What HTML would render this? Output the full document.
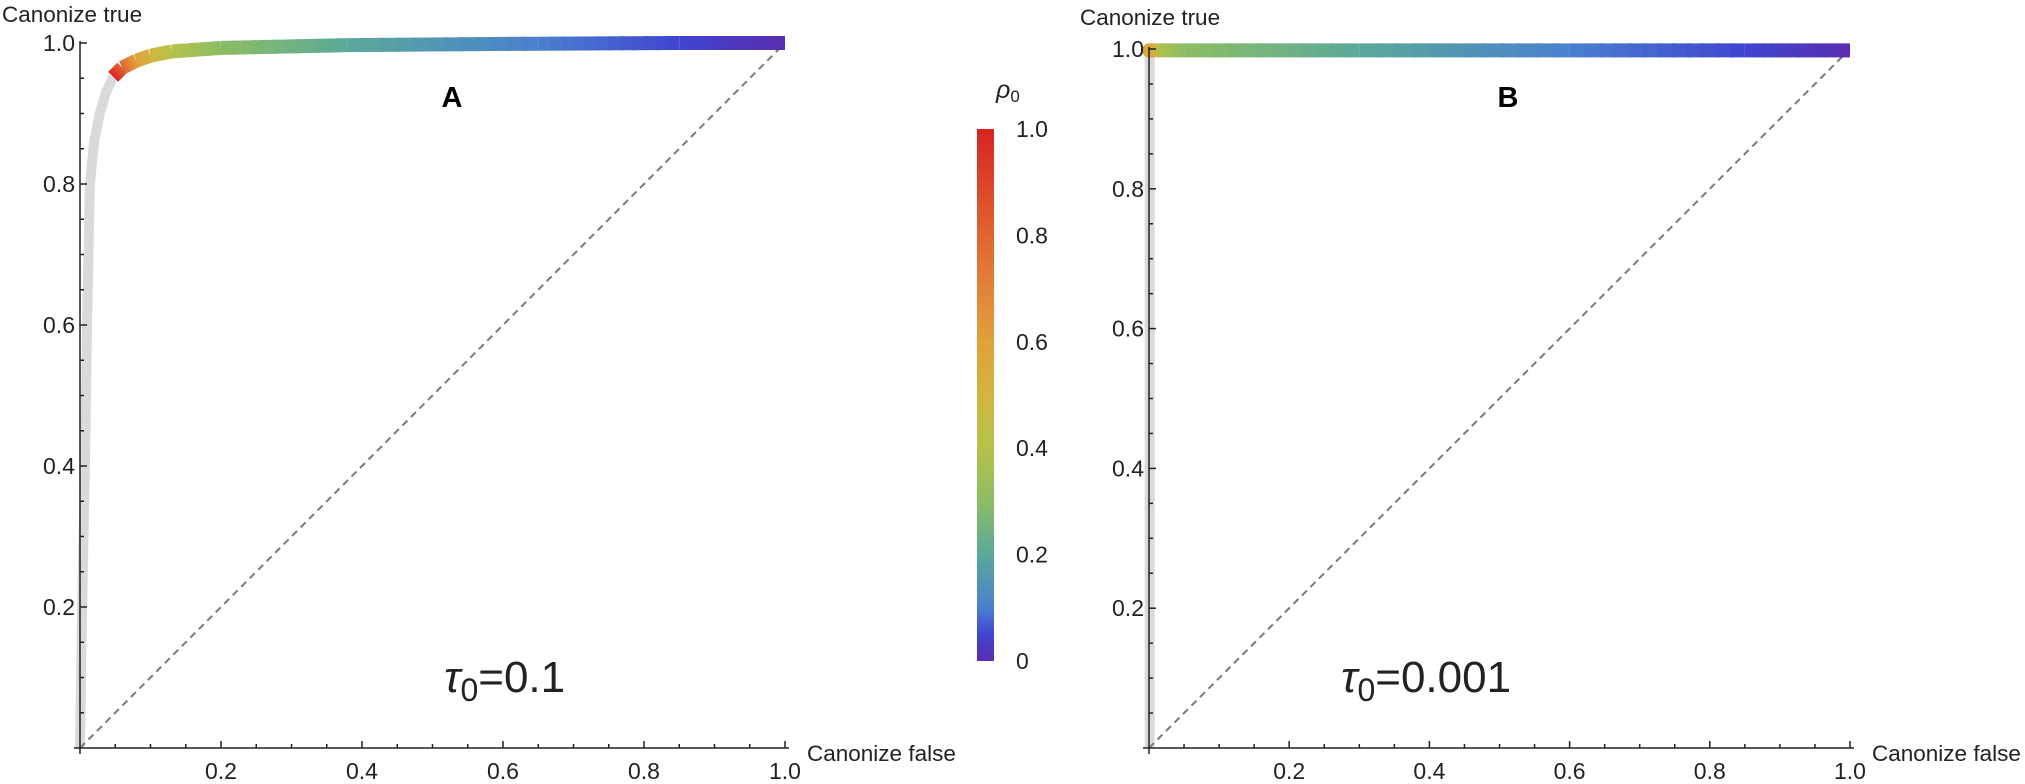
<!DOCTYPE html>
<html><head><meta charset="utf-8"><style>
html,body{margin:0;padding:0;background:#fff;}
svg{display:block;font-family:"Liberation Sans",sans-serif;}
</style></head><body>
<svg id="chart" width="2025" height="784" viewBox="0 0 2025 784">
<defs>
<linearGradient id="cbar" x1="0" y1="1" x2="0" y2="0">
<stop offset="0" stop-color="#5a2db0"/><stop offset="0.05" stop-color="#3f45d0"/><stop offset="0.1" stop-color="#4a80cf"/>
<stop offset="0.2" stop-color="#5aa99a"/><stop offset="0.3" stop-color="#8cbd65"/><stop offset="0.4" stop-color="#b5c14a"/>
<stop offset="0.5" stop-color="#d2b540"/><stop offset="0.6" stop-color="#e0a13a"/><stop offset="0.7" stop-color="#e4823a"/>
<stop offset="0.8" stop-color="#e0642f"/><stop offset="0.9" stop-color="#dc4428"/><stop offset="1" stop-color="#d92321"/>
</linearGradient>
</defs>
<g id="layer"></g>
</svg>
<script>
// Panel A (tau0 = 0.1)
const grayA_x = [0, 0.003, 0.007, 0.010, 0.014, 0.020, 0.028, 0.037, 0.047];
const grayA_y = [0, 0.2, 0.4, 0.6, 0.8, 0.86, 0.9, 0.93, 0.952];
const colA_x = [0.047, 0.06, 0.08, 0.10, 0.13, 0.20, 0.38, 0.65, 0.85, 1.0];
const colA_y = [0.952, 0.965, 0.975, 0.982, 0.988, 0.993, 0.997, 0.999, 1.0, 1.0];
const colA_rho = [1.0, 0.8, 0.6, 0.5, 0.4, 0.3, 0.2, 0.1, 0.05, 0];
// Panel B (tau0 = 0.001)
const grayB_x = [0.001, 0.001];
const grayB_y = [0, 0.998];
const colB_x = [0.0, 0.01, 0.05, 0.3, 0.6, 0.85, 1.0];
const colB_y = [0.998, 0.998, 0.998, 0.998, 0.998, 0.998, 0.998];
const colB_rho = [1.0, 0.4, 0.3, 0.2, 0.1, 0.05, 0];
// axes
const axisTicks = [0.2, 0.4, 0.6, 0.8, 1.0];
const axisTickLabels = ["0.2", "0.4", "0.6", "0.8", "1.0"];
const cbarTicks = [0, 0.2, 0.4, 0.6, 0.8, 1.0];
const cbarTickLabels = ["0", "0.2", "0.4", "0.6", "0.8", "1.0"];

const cmapStops = [0,0.05,0.1,0.2,0.3,0.4,0.5,0.6,0.7,0.8,0.9,1];
const cmapCols = ["#5a2db0","#3f45d0","#4a80cf","#5aa99a","#8cbd65","#b5c14a","#d2b540","#e0a13a","#e4823a","#e0642f","#dc4428","#d92321"];
function hex(c){return [parseInt(c.substr(1,2),16),parseInt(c.substr(3,2),16),parseInt(c.substr(5,2),16)];}
function cmap(v){
  for(let i=0;i<cmapStops.length-1;i++){
    if(v<=cmapStops[i+1]){const t=(v-cmapStops[i])/(cmapStops[i+1]-cmapStops[i]);
      const a=hex(cmapCols[i]),b=hex(cmapCols[i+1]);
      return "rgb("+a.map((x,k)=>Math.round(x+(b[k]-x)*t)).join(",")+")";}
  }
  return cmapCols[cmapCols.length-1];
}
const NS="http://www.w3.org/2000/svg";
const layer=document.getElementById("layer");
function mk(tag,attrs,parent){const e=document.createElementNS(NS,tag);for(const k in attrs)e.setAttribute(k,attrs[k]);(parent||layer).appendChild(e);return e;}

function panel(P){
  const g=mk("g",{});
  
  
  const sx=v=>P.x0+v*(P.x1-P.x0), sy=v=>P.y0-v*(P.y0-P.y1);
  let d=P.gx.map((v,i)=>(i?"L":"M")+sx(v)+","+sy(P.gy[i])).join("");
  const gp=mk("path",{d:d,fill:"none",stroke:"#dadada","stroke-width":10},g);
  
  
  const dg=mk("line",{x1:sx(0),y1:sy(0),x2:sx(1),y2:sy(1),stroke:"#7a7a7a","stroke-width":2,"stroke-dasharray":"7,5"},g);
  
  
  const cg=mk("g",{},g);
  
  
  for(let i=0;i<P.cx.length-1;i++){
    const N=12;
    for(let k=0;k<N;k++){
      const t0=k/N,t1=(k+1.3)/N>1?1:(k+1.3)/N;
      const xa=P.cx[i]+(P.cx[i+1]-P.cx[i])*t0, ya=P.cy[i]+(P.cy[i+1]-P.cy[i])*t0;
      const xb=P.cx[i]+(P.cx[i+1]-P.cx[i])*t1, yb=P.cy[i]+(P.cy[i+1]-P.cy[i])*t1;
      const r=P.cr[i]+(P.cr[i+1]-P.cr[i])*(k+0.5)/N;
      const s=mk("line",{x1:sx(xa),y1:sy(ya),x2:sx(xb),y2:sy(yb),stroke:cmap(r),"stroke-width":14},cg);
      
      
    }
  }
  if(P.dot){const c=mk("circle",{cx:sx(P.cx[0]),cy:sy(P.cy[0]),r:7,fill:cmap(0.55)},cg);
    
    }
  const ax=mk("g",{stroke:"#222","stroke-width":1.5},g);
  
  
  mk("line",{x1:P.x0-6,y1:P.y0,x2:P.x1+4,y2:P.y0},ax);
  mk("line",{x1:P.x0,y1:P.y0+6,x2:P.x0,y2:P.y1-2},ax);
  for(let m=1;m<=20;m++){
    const v=m*0.05, major=(m%4===0);
    mk("line",{x1:sx(v),y1:P.y0,x2:sx(v),y2:P.y0-(major?7:4)},ax);
    mk("line",{x1:P.x0,y1:sy(v),x2:P.x0+(major?7:4),y2:sy(v)},ax);
  }
  axisTicks.forEach((v,i)=>{
    const tx=mk("text",{x:sx(v),y:P.y0+31,"text-anchor":"middle","font-size":23,fill:"#222"},g);
    tx.textContent=axisTickLabels[i];
    
    
    const ty=mk("text",{x:P.x0-5,y:sy(v)+8,"text-anchor":"end","font-size":23,fill:"#222"},g);
    ty.textContent=axisTickLabels[i];
    
    
  });
  const xt=mk("text",{x:P.x1+22,y:P.y0+13,"font-size":22.5,fill:"#222"},g);
  xt.textContent="Canonize false";
  
  
  const yt=mk("text",{x:P.ytx,y:P.yty,"font-size":22.5,fill:"#222"},g);
  yt.textContent="Canonize true";
  
  
  const lt=mk("text",{x:P.lx,y:107,"text-anchor":"middle","font-size":29,"font-weight":"bold",fill:"#000"},g);
  lt.textContent=P.letter;
  
  
  const tau=mk("text",{x:P.tx,y:692,"font-size":44,fill:"#222"},g);
  tau.innerHTML='<tspan font-style="italic">τ</tspan><tspan font-size="32" dy="9">0</tspan><tspan dy="-9">='+P.tau+'</tspan>';
  
  
}
panel({name:"panel-a",x0:80,x1:785,y0:748,y1:43,gx:grayA_x,gy:grayA_y,cx:colA_x,cy:colA_y,cr:colA_rho,ytx:2,yty:22,letter:"A",lx:452,tx:444,tau:"0.1",dot:false});
panel({name:"panel-b",x0:1149,x1:1850,y0:748,y1:49,gx:grayB_x,gy:grayB_y,cx:colB_x,cy:colB_y,cr:colB_rho,ytx:1080,yty:25,letter:"B",lx:1508,tx:1341,tau:"0.001",dot:true});

const cb=mk("g",{});


const cy0=661, cy1=129;
mk("rect",{x:977,y:cy1,width:17,height:cy0-cy1,fill:"url(#cbar)"},cb);
cbarTicks.forEach((v,i)=>{
  const y=cy0-v*(cy0-cy1);
  const t=mk("text",{x:1016,y:y+8,"font-size":23,fill:"#222"},cb);
  t.textContent=cbarTickLabels[i];
  
  
});
const rl=mk("text",{x:996,y:98,"font-size":25,"font-style":"italic",fill:"#222"},cb);
rl.innerHTML='ρ<tspan font-size="17" font-style="normal" dy="4">0</tspan>';


</script>
</body></html>
